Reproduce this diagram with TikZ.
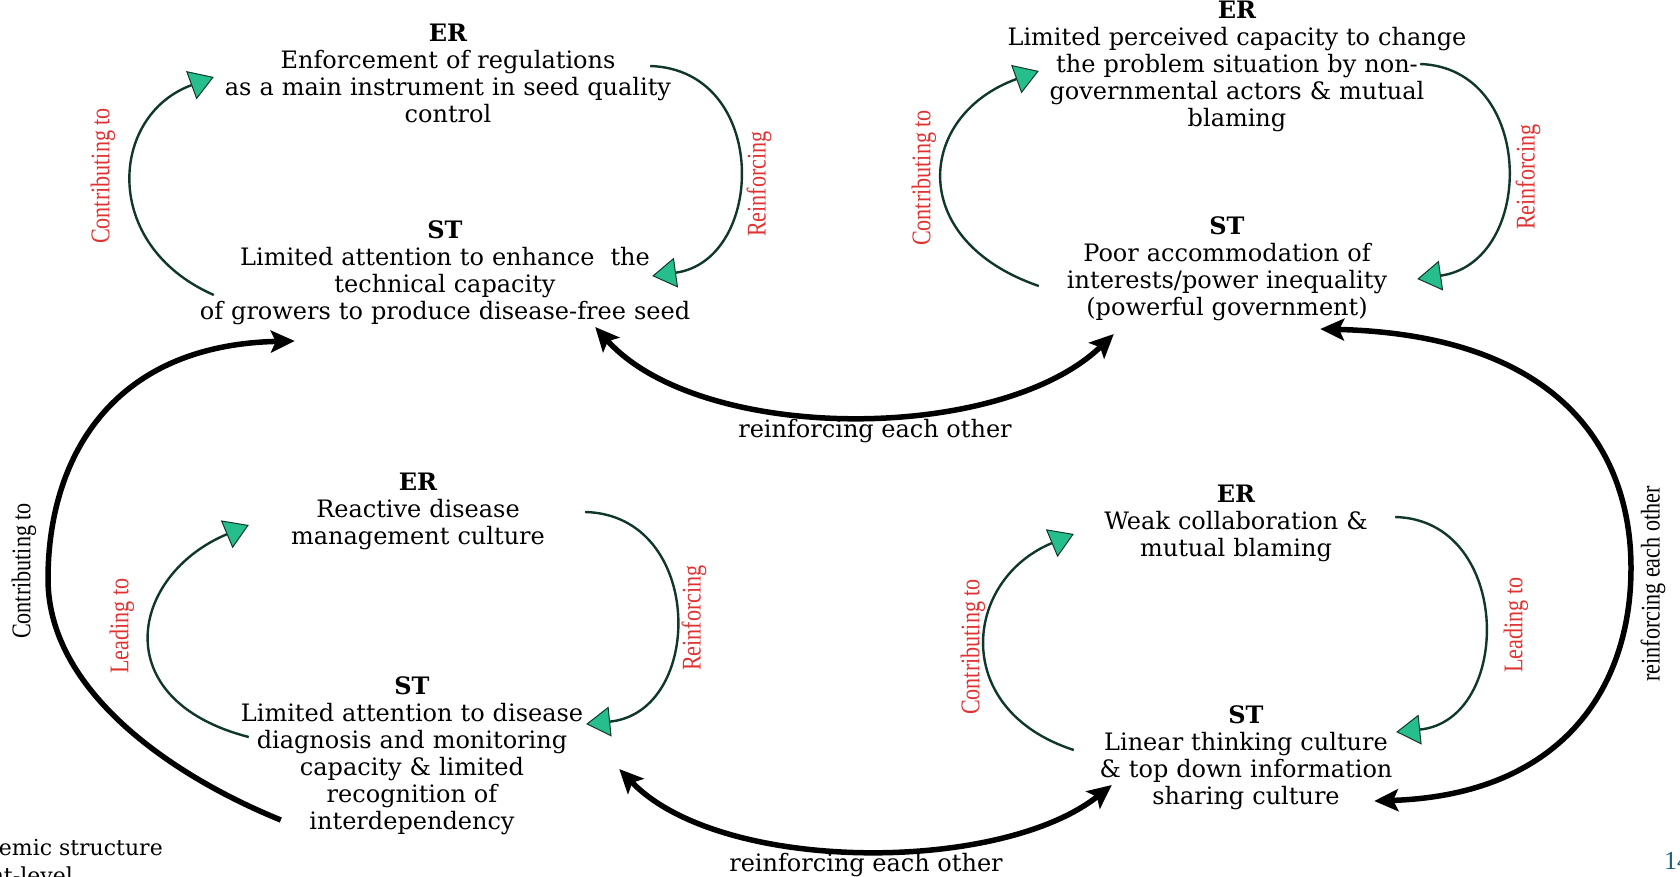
\documentclass[tikz,border=0pt]{standalone}
\usepackage{fontspec}
\setmainfont{DejaVu Serif}
\newfontfamily\labelfont{Liberation Serif}
\usetikzlibrary{arrows.meta}
\definecolor{loopgreen}{RGB}{38,190,140}
\definecolor{loopdark}{RGB}{16,56,42}
\definecolor{labelred}{RGB}{225,50,50}
\definecolor{pageblue}{RGB}{30,95,125}
\begin{document}
\begin{tikzpicture}[x=1pt, y=-1pt,
        textbox/.style = {align=center, inner sep=0pt, font=\fontsize{24}{27}\selectfont},
        blacktag/.style = {inner sep=0pt, rotate=90, xscale=0.82, font=\labelfont\fontsize{27}{29}\selectfont},
        redtag/.style = {blacktag, text=labelred},
        cycarrow/.style = {line width=2.4pt, draw=loopdark, -{Triangle[length=24pt, width=30pt, fill=loopgreen, line width=1pt]}},
        linkarrow/.style = {line width=5.5pt, -{Stealth[length=24pt, width=22pt, inset=5pt]}},
        linkboth/.style = {line width=5.5pt, {Stealth[length=24pt, width=22pt, inset=5pt]}-{Stealth[length=24pt, width=22pt, inset=5pt]}}]
        \useasboundingbox (0,0) rectangle (1680,877);
        \fill[white] (0,0) rectangle (1680,877);
        \clip (0,0) rectangle (1680,877);
        % event reactions and structures
        \node[textbox, text width=470pt] (er1) at (448,73.5) {\textbf{ER}\\Enforcement of regulations\\as a main instrument in seed quality\\control};
        \node[textbox, text width=520pt] (st1) at (445,273) {\textbf{ST}\\Limited attention to enhance~ the\\technical capacity\\of growers to produce disease-free seed};
        \node[textbox, text width=490pt] (er2) at (1237,66.5) {\textbf{ER}\\Limited perceived capacity to change\\the problem situation by non-\\governmental actors \& mutual\\blaming};
        \node[textbox, text width=350pt] (st2) at (1227,268.5) {\textbf{ST}\\Poor accommodation of\\interests/power inequality\\(powerful government)};
        \node[textbox, text width=280pt] (er3) at (418,511) {\textbf{ER}\\Reactive disease\\management culture};
        \node[textbox, text width=370pt] (st3) at (412,756) {\textbf{ST}\\Limited attention to disease\\diagnosis and monitoring\\capacity \& limited\\recognition of\\interdependency};
        \node[textbox, text width=300pt] (er4) at (1236,523) {\textbf{ER}\\Weak collaboration \&\\mutual blaming};
        \node[textbox, text width=330pt] (st4) at (1246,758) {\textbf{ST}\\Linear thinking culture\\\& top down information\\sharing culture};
        % loop labels
        \node[redtag] (c1) at (103,176) {Contributing to};
        \node[redtag] (r1) at (759,184) {Reinforcing};
        \node[redtag] (c2) at (924,178) {Contributing to};
        \node[redtag] (r2) at (1528,177) {Reinforcing};
        \node[redtag] (l3) at (122,626) {Leading to};
        \node[redtag] (r3) at (694,618) {Reinforcing};
        \node[redtag] (c4) at (973,647) {Contributing to};
        \node[redtag] (l4) at (1516,625) {Leading to};
        \node[blacktag] (c5) at (24,571) {Contributing to};
        \node[blacktag] (r5) at (1653,584) {reinforcing each other};
        \node[textbox] (r6) at (875,431) {reinforcing each other};
        \node[textbox] (r7) at (866,865) {reinforcing each other};
        \node[textbox, anchor=base east, font=\fontsize{22}{26}\selectfont] (sys) at (163,855) {emic structure};
        \node[textbox, anchor=base east, font=\fontsize{22}{26}\selectfont] (lvl) at (73,883) {nt-level};
        \node[textbox, anchor=base west, text=pageblue, font=\labelfont\fontsize{26}{28}\selectfont] (pg) at (1664,869) {14};
        %
        \draw[cycarrow] ([shift={(29,22)}]st1.west) .. controls (100,245) and (110,115) .. ([shift={(1,3.5)}]er1.west);
        \draw[cycarrow] ([shift={(-33,-7.5)}]er1.east) .. controls (770,70) and (766,260) .. ([shift={(-53,3)}]st1.east);
        \draw[cycarrow] ([shift={(-13,17.5)}]st2.west) .. controls (905,240) and (917,115) .. ([shift={(47,4.5)}]er2.west);
        \draw[cycarrow] ([shift={(-62,-2.5)}]er2.east) .. controls (1536,68) and (1536,262) .. ([shift={(15,10.5)}]st2.east);
        \draw[cycarrow] ([shift={(22,-19)}]st3.west) .. controls (105,700) and (130,575) .. ([shift={(-29,14)}]er3.west);
        \draw[cycarrow] ([shift={(27,1)}]er3.east) .. controls (705,515) and (705,712) .. ([shift={(-11,-32)}]st3.east);
        \draw[cycarrow] ([shift={(-7,-8)}]st4.west) .. controls (950,710) and (963,580) .. ([shift={(-12,11)}]er4.west);
        \draw[cycarrow] ([shift={(9,-6)}]er4.east) .. controls (1513,520) and (1513,720) .. ([shift={(-15,-26)}]st4.east);
        %
        \draw[linkboth] ([shift={(-110,54)}]st1.east) .. controls (700,444) and (1000,444) .. ([shift={(62,65.5)}]st2.west);
        \draw[linkboth] ([shift={(22,13)}]st3.east) .. controls (720,874) and (1000,874) .. ([shift={(31,27)}]st4.west);
        \draw[linkarrow] ([shift={(54,64)}]st3.west) .. controls (170,775) and (48,690) .. (48,579) .. controls (48,460) and (110,345) .. ([shift={(110,68)}]st1.west);
        \draw[linkboth] ([shift={(-82,60.5)}]st2.east) .. controls (1560,335) and (1631,450) .. (1631,568) .. controls (1631,690) and (1560,795) .. ([shift={(-37,43)}]st4.east);
\end{tikzpicture}
\end{document}
